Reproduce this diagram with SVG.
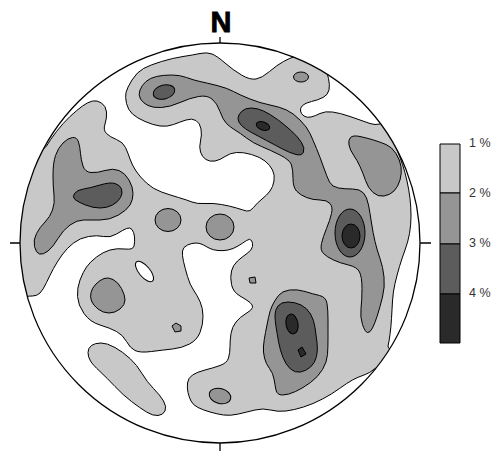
<svg xmlns="http://www.w3.org/2000/svg" width="492" height="451" viewBox="0 0 492 451">
<style>
.c{stroke:#000;stroke-width:1;stroke-linejoin:round}
.w{fill:#fff}
.l1{fill:#c8c8c8}
.l2{fill:#959595}
.l3{fill:#5c5c5c}
.l4{fill:#2a2a2a}
.lab{font-family:"Liberation Sans",Arial,sans-serif;font-size:12.5px;fill:#333}
</style>
<defs>
<clipPath id="net"><circle cx="220" cy="243" r="200"/></clipPath>
</defs>
<g id="contours" clip-path="url(#net)">
<circle cx="220" cy="243" r="200" class="l1"/>
<path class="c w" d="M0,95 Q0,160 21.5,156 Q43,152 46.5,146 Q50,140 56.5,131.5 Q63,123 70,116.5 Q77,110 82.5,106 Q88,102 92.5,101 Q97,100 101.5,103 Q106,106 106.5,112 Q107,118 105,124 Q103,130 106.5,133.5 Q110,137 116.5,139.5 Q123,142 125.5,147.5 Q128,153 130,159 Q132,165 136,171 Q140,177 146.5,183 Q153,189 161.5,192 Q170,195 178.5,197.5 Q187,200 192,202 Q197,204 205,203.5 Q213,203 221.5,204.5 Q230,206 236.5,208 Q243,210 246.5,211 Q250,212 253.5,207.5 Q257,203 262,199 Q267,195 270,191 Q273,187 274,181 Q275,175 272.5,170 Q270,165 265,161 Q260,157 251.5,154.5 Q243,152 236.5,152.5 Q230,153 225,156.5 Q220,160 215,161 Q210,162 206,159.5 Q202,157 200.5,152 Q199,147 200.5,141 Q202,135 201,129 Q200,123 196,120.5 Q192,118 186,120 Q180,122 173.5,124.5 Q167,127 160,126 Q153,125 145,121.5 Q137,118 132.5,114 Q128,110 126.5,103.5 Q125,97 126,92.5 Q127,88 132,80 Q137,72 143.5,68.5 Q150,65 161.5,61.5 Q173,58 183,56.5 Q193,55 200,53.5 Q207,52 212,54 Q217,56 225,63 Q233,70 241.5,75 Q250,80 256,79 Q262,78 269.5,71.5 Q277,65 283.5,61.5 Q290,58 293.5,57 Q297,56 301,43 Q305,30 152.5,30 Q0,30 0,95 Z"/>
<path class="c w" d="M360,80 Q320,50 323.5,61 Q327,72 328.5,78.5 Q330,85 329,90 Q328,95 323,97.5 Q318,100 311.5,101.5 Q305,103 302.5,105.5 Q300,108 300.5,111 Q301,114 304,116 Q307,118 311,117 Q315,116 320,113.5 Q325,111 332.5,112 Q340,113 350,116.5 Q360,120 370,123.5 Q380,127 390,118.5 Q400,110 360,80 Z"/>
<path class="c w" d="M397.5,100 Q375,100 378,112.5 Q381,125 383.5,127.5 Q386,130 389.5,135 Q393,140 396.5,148.5 Q400,157 402.5,164.5 Q405,172 407,181 Q409,190 410,198.5 Q411,207 411,216 Q411,225 409.5,233.5 Q408,242 405,250 Q402,258 399.5,266.5 Q397,275 395,283.5 Q393,292 392.5,301 Q392,310 391.5,318.5 Q391,327 390,334.5 Q389,342 388,346 Q387,350 403.5,355 Q420,360 435,301.5 Q450,243 435,171.5 Q420,100 397.5,100 Z"/>
<path class="c w" d="M0,385 Q0,300 14,298 Q28,296 32.5,296 Q37,296 40,293 Q43,290 46.5,282.5 Q50,275 53.5,268.5 Q57,262 62,255 Q67,248 73.5,243 Q80,238 88.5,236.5 Q97,235 103.5,236.5 Q110,238 116.5,234 Q123,230 126.5,228.5 Q130,227 132,229.5 Q134,232 134.5,237 Q135,242 134,246 Q133,250 125,249 Q117,248 110,250 Q103,252 96.5,257 Q90,262 86.5,267 Q83,272 80,280 Q77,288 77.5,296.5 Q78,305 84,313.5 Q90,322 100,325 Q110,328 116.5,331.5 Q123,335 126.5,341.5 Q130,348 135,350.5 Q140,353 151.5,351.5 Q163,350 172.5,349 Q182,348 189.5,344 Q197,340 200,332.5 Q203,325 203,316.5 Q203,308 200,301.5 Q197,295 193.5,290 Q190,285 187.5,276.5 Q185,268 183.5,261.5 Q182,255 182.5,251 Q183,247 187.5,245 Q192,243 196,243 Q200,243 203.5,245 Q207,247 210,248.5 Q213,250 218,250.5 Q223,251 228,250 Q233,249 238,246 Q243,243 246.5,240.5 Q250,238 251.5,240.5 Q253,243 252.5,246.5 Q252,250 247,253.5 Q242,257 237.5,261 Q233,265 231.5,271 Q230,277 231.5,284.5 Q233,292 240,296 Q247,300 250,302.5 Q253,305 252.5,307.5 Q252,310 246,313.5 Q240,317 236,322 Q232,327 231,333.5 Q230,340 230,346.5 Q230,353 228.5,358 Q227,363 220,365.5 Q213,368 205,370 Q197,372 192.5,375 Q188,378 187.5,383 Q187,388 188,392.5 Q189,397 191,401 Q193,405 198,407.5 Q203,410 210,412 Q217,414 223.5,415 Q230,416 238.5,414 Q247,412 255,410 Q263,408 270.5,410 Q278,412 286,411 Q294,410 303.5,407 Q313,404 322.5,399 Q332,394 339.5,388.5 Q347,383 352.5,380 Q358,377 364,375 Q370,373 375,368.5 Q380,364 395,372 Q410,380 405,425 Q400,470 200,470 Q0,470 0,385 Z"/>
<path class="c l1" d="M88,352.5 Q88,348 91.5,345.5 Q95,343 101,343 Q107,343 115,347.5 Q123,352 130,358.5 Q137,365 142,373.5 Q147,382 153.5,388.5 Q160,395 163.5,401 Q167,407 165,411 Q163,415 158,415.5 Q153,416 146.5,412 Q140,408 131.5,401.5 Q123,395 115,386.5 Q107,378 100,371.5 Q93,365 90.5,361 Q88,357 88,352.5 Z"/>
<ellipse class="c w" cx="144.5" cy="271.5" rx="5.5" ry="12.5" transform="rotate(-40 144.5 271.5)"/>
<path class="c l2" d="M140.5,99 Q138,95 140,90 Q142,85 146,81.5 Q150,78 156.5,76.5 Q163,75 171.5,75 Q180,75 186.5,77.5 Q193,80 200,81.5 Q207,83 217,85.5 Q227,88 233.5,91.5 Q240,95 250,99 Q260,103 270,105 Q280,107 286.5,110 Q293,113 300,120 Q307,127 310,133.5 Q313,140 316.5,148.5 Q320,157 323.5,167 Q327,177 329.5,182 Q332,187 338.5,188 Q345,189 352.5,189 Q360,189 363.5,193 Q367,197 368.5,205 Q370,213 371.5,223 Q373,233 375,241.5 Q377,250 380,258.5 Q383,267 384,277 Q385,287 382.5,297 Q380,307 377.5,315 Q375,323 372.5,328 Q370,333 367.5,332.5 Q365,332 362.5,324.5 Q360,317 361,308.5 Q362,300 362,288.5 Q362,277 359.5,272 Q357,267 348.5,265 Q340,263 333.5,260 Q327,257 323.5,253.5 Q320,250 321.5,243.5 Q323,237 326.5,228.5 Q330,220 331.5,213.5 Q333,207 330,203.5 Q327,200 320,200 Q313,200 306.5,197.5 Q300,195 296.5,191 Q293,187 293,178.5 Q293,170 291.5,165 Q290,160 280,155 Q270,150 261.5,146.5 Q253,143 246.5,138 Q240,133 235,130 Q230,127 226.5,123.5 Q223,120 220,111.5 Q217,103 212,99 Q207,95 198.5,96.5 Q190,98 180,102.5 Q170,107 161.5,107.5 Q153,108 148,105.5 Q143,103 140.5,99 Z"/>
<path class="c l2" d="M349,145 Q348,140 350.5,137.5 Q353,135 360,136.5 Q367,138 373.5,140 Q380,142 386,144.5 Q392,147 396,153.5 Q400,160 401,166.5 Q402,173 400,180 Q398,187 394,191 Q390,195 384,196 Q378,197 373,192.5 Q368,188 365.5,180.5 Q363,173 360,166.5 Q357,160 353.5,155 Q350,150 349,145 Z"/>
<path class="c l2" d="M54,195 Q53,187 53,175 Q53,163 55.5,155.5 Q58,148 63,143 Q68,138 72.5,137.5 Q77,137 78.5,142 Q80,147 80.5,153.5 Q81,160 83,166 Q85,172 91,172.5 Q97,173 105,170.5 Q113,168 119,170.5 Q125,173 129,180 Q133,187 133,193.5 Q133,200 130,205 Q127,210 118.5,215 Q110,220 100,220 Q90,220 83.5,220 Q77,220 70,225 Q63,230 58,238.5 Q53,247 48,251 Q43,255 39.5,254 Q36,253 34.5,246.5 Q33,240 36.5,233.5 Q40,227 45,222 Q50,217 52.5,210 Q55,203 54,195 Z"/>
<path class="c l2" d="M91,292.5 Q92,288 96,284 Q100,280 104,278.5 Q108,277 113,279.5 Q118,282 121.5,288.5 Q125,295 125,300 Q125,305 120,309 Q115,313 109,313 Q103,313 98,309 Q93,305 91.5,301 Q90,297 91,292.5 Z"/>
<ellipse class="c l2" cx="168" cy="220" rx="13" ry="11.5"/>
<ellipse class="c l2" cx="220" cy="227" rx="14" ry="13"/>
<ellipse class="c l2" cx="301" cy="77" rx="7.5" ry="5"/>
<ellipse class="c l2" cx="220" cy="396" rx="11" ry="7.5" transform="rotate(15 220 396)"/>
<path class="c l2" d="M172,326 L176,323 181,326 181,331 175,332 Z"/>
<path class="c l2" d="M249,278 L255,277 256,283 250,283 Z"/>
<path class="c l2" d="M272.5,305 Q275,300 278.5,295.5 Q282,291 289.5,290 Q297,289 305,291.5 Q313,294 319.5,295.5 Q326,297 327,303.5 Q328,310 328,320 Q328,330 328,338.5 Q328,347 327.5,354.5 Q327,362 322.5,369.5 Q318,377 310.5,382.5 Q303,388 295.5,391.5 Q288,395 282.5,395 Q277,395 276,390 Q275,385 274,379 Q273,373 269.5,368.5 Q266,364 264.5,358 Q263,352 263.5,346 Q264,340 265.5,332.5 Q267,325 268.5,317.5 Q270,310 272.5,305 Z"/>
<ellipse class="c l3" cx="164" cy="92" rx="11" ry="7" transform="rotate(-15 164 92)"/>
<path class="c l3" d="M238,118.5 Q238,115 241.5,111.5 Q245,108 251,108 Q257,108 263.5,111 Q270,114 277.5,119.5 Q285,125 291.5,131 Q298,137 301.5,142.5 Q305,148 303.5,152 Q302,156 296,154.5 Q290,153 282.5,149 Q275,145 266.5,140.5 Q258,136 251.5,132.5 Q245,129 241.5,125.5 Q238,122 238,118.5 Z"/>
<ellipse class="c l3" cx="350" cy="233" rx="15" ry="24"/>
<path class="c l3" d="M75,199.5 Q72,197 74.5,193.5 Q77,190 83.5,189 Q90,188 100,185 Q110,182 115,183.5 Q120,185 121.5,189 Q123,193 120.5,197.5 Q118,202 112.5,205 Q107,208 100,208 Q93,208 85.5,205 Q78,202 75,199.5 Z"/>
<path class="c l3" d="M275,315 Q275,310 278,306 Q281,302 288,302 Q295,302 301,305 Q307,308 310.5,314 Q314,320 315,327.5 Q316,335 317,342.5 Q318,350 316.5,356.5 Q315,363 310.5,367 Q306,371 300.5,372 Q295,373 290.5,369 Q286,365 283,357.5 Q280,350 278.5,341.5 Q277,333 276,326.5 Q275,320 275,315 Z"/>
<ellipse class="c l4" cx="263" cy="126" rx="7" ry="4" transform="rotate(20 263 126)"/>
<ellipse class="c l4" cx="351" cy="236" rx="9" ry="12"/>
<ellipse class="c l4" cx="292" cy="324" rx="6" ry="10" transform="rotate(-10 292 324)"/>
<path class="c l4" d="M298,350 L302,347 306,354 301,357 Z"/>
</g>
<g id="frame" fill="none" stroke="#000">
<circle cx="220" cy="243" r="200" stroke-width="1.3"/>
<path d="M220,37 V43 M10,243 H20 M420,243 H431 M220,443 V451" stroke-width="1.3"/>
</g>
<text x="221" y="32" text-anchor="middle" stroke="#000" stroke-width="0.8" style="font-family:'Liberation Sans',Arial,sans-serif;font-weight:bold;font-size:29px">N</text>
<g id="legend" class="c">
<rect x="440" y="144" width="20" height="49" class="l1"/>
<rect x="440" y="193" width="20" height="51" class="l2"/>
<rect x="440" y="244" width="20" height="50" class="l3"/>
<rect x="440" y="294" width="20" height="49" class="l4"/>
</g>
<text class="lab" x="469" y="147">1 %</text>
<text class="lab" x="469" y="197">2 %</text>
<text class="lab" x="469" y="247">3 %</text>
<text class="lab" x="469" y="297">4 %</text>
</svg>
